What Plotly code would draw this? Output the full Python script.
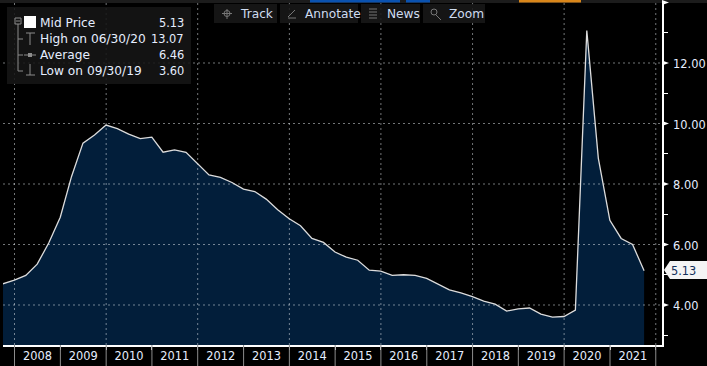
import pandas as pd
import plotly.graph_objects as go

W, H = 707, 366
L, R, T, B = 3, 662, 3, 345

quarter_ends = pd.date_range("2007-09-30", periods=57, freq="QE")
mid_price = [4.70, 4.82, 4.98, 5.35, 6.05, 6.90, 8.25, 9.35, 9.62, 9.95, 9.83, 9.65, 9.50, 9.55,
             9.05, 9.13, 9.05, 8.68, 8.30, 8.22, 8.05, 7.83, 7.75, 7.50, 7.15, 6.85, 6.62, 6.20,
             6.07, 5.75, 5.58, 5.48, 5.15, 5.12, 4.98, 5.00, 4.98, 4.88, 4.68, 4.50, 4.40, 4.28,
             4.13, 4.03, 3.80, 3.87, 3.90, 3.70, 3.60, 3.62, 3.83, 13.07, 8.85, 6.80, 6.20, 6.00, 5.13]
years = list(range(2008, 2023))
y_major = [4, 6, 8, 10, 12, 14]
y_labels = ["4.00", "6.00", "8.00", "10.00", "12.00", ""]
legend_names = ["Mid Price", "High on 06/30/20", "Average", "Low on 09/30/19"]
legend_values = ["5.13", "13.07", "6.46", "3.60"]
toolbar_labels = ["Track", "Annotate", "News", "Zoom"]
last_label = "5.13"

FONT = "DejaVu Sans"
TXT = "#e6eeff"
GRID = "rgba(230,235,240,0.5)"
DASH = "2px,3px"


def px(x):
    return (x - L) / (R - L)


def py(y):
    return (B - y) / (B - T)


shapes, annots = [], []


def rect(x0, y0, x1, y1, color):
    shapes.append(dict(type="rect", xref="paper", yref="paper", x0=px(x0), x1=px(x1), y0=py(y0), y1=py(y1),
                       fillcolor=color, line_width=0, layer="above"))


def seg(x0, y0, x1, y1, color="#8c8c8c", w=1):
    shapes.append(dict(type="line", xref="paper", yref="paper", x0=px(x0), x1=px(x1), y0=py(y0), y1=py(y1),
                       line=dict(color=color, width=w), layer="above"))


def text(x, y, s, anchor="left", color=TXT, size=12.2):
    annots.append(dict(xref="paper", yref="paper", x=px(x), y=py(y), text=s, showarrow=False, xanchor=anchor,
                       yanchor="middle", font=dict(family=FONT, size=size, color=color), borderpad=0, borderwidth=0))


def poly(points, color):
    path = "M " + " L ".join(f"{px(a):.5f} {py(b):.5f}" for a, b in points) + " Z"
    shapes.append(dict(type="path", xref="paper", yref="paper", path=path, fillcolor=color, line_width=0, layer="above"))


# year boundary ticks below the axis, and dashed grid over the area
for yr in years:
    d = f"{yr}-01-01"
    shapes.append(dict(type="line", xref="x", yref="paper", x0=d, x1=d, y0=py(345), y1=py(366),
                       line=dict(color="#8c8c8c", width=1), layer="above"))
    if yr % 2 == 0:
        shapes.append(dict(type="line", xref="x", yref="paper", x0=d, x1=d, y0=0, y1=1,
                           line=dict(color=GRID, width=1, dash=DASH), layer="above"))
for v in y_major:
    shapes.append(dict(type="line", xref="paper", yref="y", x0=0, x1=1, y0=v, y1=v,
                       line=dict(color=GRID, width=1, dash=DASH), layer="above"))

# top strip
rect(0, 0, W, 3, "#1c1c1c")
rect(310, 0, 400, 2.5, "#0a52b0")
rect(406, 0, 430, 2.5, "#0a52b0")
rect(519, 0, 581, 2.5, "#d9861a")

# legend panel
rect(7, 7, 191, 84, "rgba(22,22,22,0.88)")
for name, val, y in zip(legend_names, legend_values, [23, 39, 55, 71]):
    text(40, y, name)
    text(184, y, val, "right", size=11.4)
rect(24, 16, 36, 28, "#ffffff")
for a, b, c, d in [(15, 18, 21, 18), (15, 24, 21, 24), (15, 18, 15, 24), (21, 18, 21, 24), (18, 24, 18, 71), (18, 39, 23, 39),
                   (18, 55, 23, 55), (18, 71, 23, 71), (26, 33, 35, 33), (30, 33, 30, 45), (24, 55, 36, 55),
                   (26, 75, 35, 75), (30, 64, 30, 75), (16, 21, 20, 21)]:
    seg(a, b, c, d)
rect(28, 53, 32, 57, "#8c8c8c")

# toolbar
for (x0, x1), lab, tx in zip([(214, 277), (280, 358), (361, 420), (423, 485)], toolbar_labels, [240, 305, 387, 449]):
    rect(x0, 4, x1, 23, "rgba(24,24,24,0.88)")
    text(tx, 14, lab, color="#cfdcf0")
for a, b, c, d in [(222, 13.5, 232, 13.5), (227, 9, 227, 19), (288, 18, 296, 18), (288, 17, 295, 10), (369, 9, 377, 9),
                   (369, 12, 377, 12), (369, 15, 377, 15), (369, 18, 377, 18), (436, 15, 441, 20)]:
    seg(a, b, c, d, "#777777", 1)
shapes.append(dict(type="circle", xref="paper", yref="paper", x0=px(431), x1=px(437), y0=py(15), y1=py(9),
                   line=dict(color="#777777", width=1), layer="above"))
shapes.append(dict(type="circle", xref="paper", yref="paper", x0=px(224), x1=px(230), y0=py(16.5), y1=py(10.5),
                   line=dict(color="#777777", width=1), layer="above"))

# last-price flag
poly([(664, 270), (670, 261), (707, 261), (707, 279), (670, 279)], "#f4f4f4")
text(671, 270.5, last_label, color="#12305a", size=11.4)

# white arrow heads on labelled y ticks
for v in y_major:
    yp = 305 - (v - 4) * 30.25
    poly([(662, yp - 2.5), (669, yp), (662, yp + 2.5)], "#ffffff")

fig = go.Figure(go.Scatter(x=quarter_ends, y=mid_price, mode="lines", fill="tozeroy",
                           fillcolor="#021e3a", line=dict(color="#dcdcdc", width=1.3), hoverinfo="skip"))

px_per_day = (610 - 14.5) / (pd.Timestamp("2021-01-01") - pd.Timestamp("2008-01-01")).days
x_start = pd.Timestamp("2008-01-01") + pd.Timedelta(days=(L - 14.5) / px_per_day)
x_end = pd.Timestamp("2008-01-01") + pd.Timedelta(days=(R - 14.5) / px_per_day)
y_low = 4 - (B - 305) / 30.25
y_high = 4 + (305 - T) / 30.25

fig.update_layout(
    width=W, height=H, margin=dict(l=L, r=W - R, t=T, b=H - B), paper_bgcolor="#000000", plot_bgcolor="#000000",
    showlegend=False, shapes=shapes, annotations=annots, font=dict(family=FONT, size=11.4, color=TXT),
    xaxis=dict(range=[x_start, x_end], type="date", tick0="2008-01-01", dtick="M12", tickformat="%Y", automargin=False,
               ticklabelmode="period", ticks="outside", ticklen=3, tickwidth=1, tickcolor="#ffffff", ticklabelstandoff=-3,
               showgrid=False, zeroline=False, showline=True, linecolor="#ffffff", linewidth=1.5,
               tickfont=dict(family=FONT, size=11.4, color=TXT)),
    yaxis=dict(range=[y_low, y_high], side="right", tickvals=y_major, ticktext=y_labels,
               automargin=False, ticks="outside", ticklen=7, tickcolor="rgba(0,0,0,0)", showgrid=False,
               ticklabelshift=1, zeroline=False, showline=True, linecolor="#ffffff", linewidth=1.5,
               tickfont=dict(family=FONT, size=11.4, color=TXT),
               minor=dict(tickvals=[3, 5, 7, 9, 11, 13], ticks="outside", ticklen=4, tickwidth=1, tickcolor="#ffffff", showgrid=False)),
)
fig.write_html("out.html", config=dict(displayModeBar=False),
               post_script="document.body.style.margin='0';document.body.style.overflow='hidden';")
